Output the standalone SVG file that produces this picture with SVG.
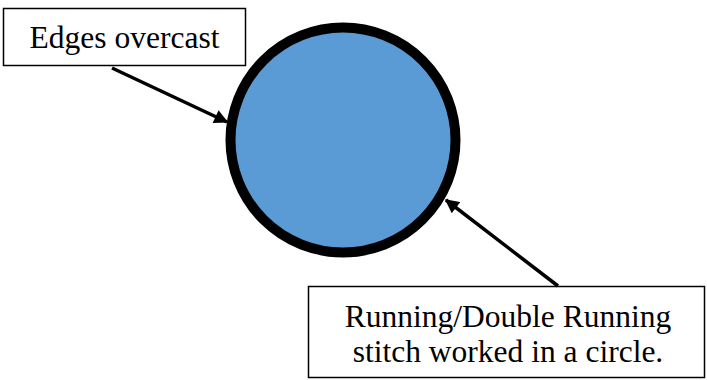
<svg xmlns="http://www.w3.org/2000/svg" width="707" height="380" viewBox="0 0 707 380">
<style>
.box{fill:#fff;stroke:#000;stroke-width:1.5}
.lbl{font-size:31.5px;fill:#000}
.conn{stroke:#000;stroke-width:3.5;fill:none}
</style>
<defs>
<marker id="ah" viewBox="0 0 10 10" refX="9" refY="5" markerWidth="4.2" markerHeight="4" orient="auto" markerUnits="strokeWidth">
<path d="M0,0 L10,5 L0,10 z" fill="#000"/>
</marker>
</defs>
<rect width="707" height="380" fill="#fff"/>
<g id="circle">
<circle cx="343" cy="140" r="112.5" fill="#5B9BD5" stroke="#000" stroke-width="10"/>
</g>
<g id="label1">
<rect class="box" x="3.5" y="8.5" width="242" height="57"/>
<text class="lbl" font-family="'Liberation Serif', 'Times New Roman', 'DejaVu Serif', serif" x="124.5" y="48" text-anchor="middle">Edges overcast</text>
</g>
<g id="label2">
<rect class="box" x="308.5" y="286.5" width="396" height="91"/>
<text class="lbl" font-family="'Liberation Serif', 'Times New Roman', 'DejaVu Serif', serif" x="508" y="327" text-anchor="middle">Running/Double Running</text>
<text class="lbl" font-family="'Liberation Serif', 'Times New Roman', 'DejaVu Serif', serif" x="508" y="362" text-anchor="middle">stitch worked in a circle.</text>
</g>
<g id="connectors">
<line class="conn" x1="112" y1="68" x2="227" y2="122" marker-end="url(#ah)"/>
<line class="conn" x1="558" y1="286" x2="446" y2="200" marker-end="url(#ah)"/>
</g>
</svg>
